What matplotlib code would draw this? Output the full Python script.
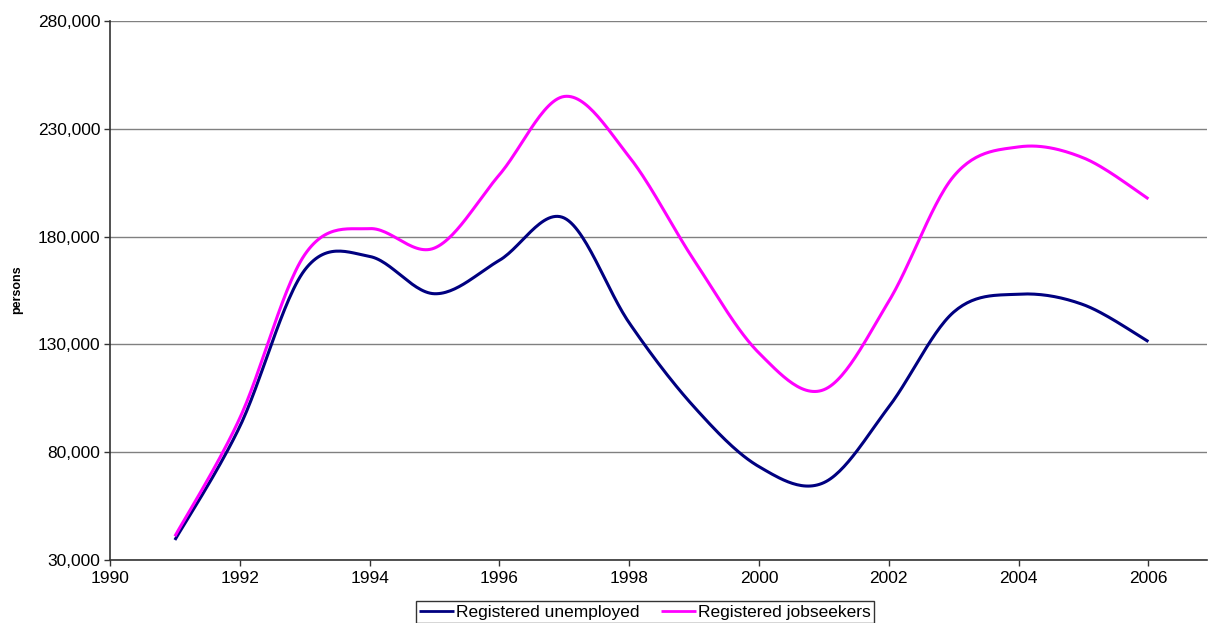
import numpy as np
import matplotlib
matplotlib.use("Agg")
import matplotlib.pyplot as plt
from matplotlib.ticker import FuncFormatter

years = [1991, 1992, 1993, 1994, 1995, 1996, 1997, 1998,
         1999, 2000, 2001, 2002, 2003, 2004, 2005, 2006]
unemployed = [39300, 91900, 164500, 170800, 153500, 169000, 188600, 140000,
              101000, 73300, 65900, 101000, 145000, 153300, 148400, 131300]
jobseekers = [41000, 95800, 171600, 183700, 174700, 208700, 245000, 217000,
              169000, 126000, 109000, 150000, 208000, 221600, 216500, 197500]

series_names = ["Registered unemployed", "Registered jobseekers"]
series_colors = ["#000080", "#FF00FF"]


def smooth(xs, ys, n=30):
    # excel style smoothed line: bezier segments, catmull-rom control points
    x = np.asarray(xs, float)
    y = np.asarray(ys, float)
    px = np.concatenate([[x[0]], x, [x[-1]]])
    py = np.concatenate([[y[0]], y, [y[-1]]])
    outx, outy = [], []
    t = np.linspace(0, 1, n)
    for i in range(len(x) - 1):
        p0 = np.array([px[i + 1], py[i + 1]])
        p3 = np.array([px[i + 2], py[i + 2]])
        c1 = p0 + (p3 - np.array([px[i], py[i]])) / 6
        c2 = p3 - (np.array([px[i + 3], py[i + 3]]) - p0) / 6
        b = ((1 - t) ** 3)[:, None] * p0 + (3 * (1 - t) ** 2 * t)[:, None] * c1 \
            + (3 * (1 - t) * t ** 2)[:, None] * c2 + (t ** 3)[:, None] * p3
        outx.extend(b[:, 0])
        outy.extend(b[:, 1])
    return outx, outy


plt.rcParams['font.family'] = ['Liberation Sans', 'DejaVu Sans']

fig = plt.figure(figsize=(12.08, 6.23), dpi=100)
ax = fig.add_axes([110 / 1208, 1 - 560 / 623, 1097 / 1208, 539 / 623])

for vals, name, col in zip([unemployed, jobseekers], series_names, series_colors):
    sx, sy = smooth(years, vals)
    ax.plot(sx, sy, color=col, lw=2.2, label=name, solid_capstyle='butt')

ax.set_xlim(1990, 1990 + 1097 / 64.9)
ax.set_ylim(30000, 280000)
ax.set_xticks(range(1990, 2007, 2))
ax.set_yticks(range(30000, 280001, 50000))
ax.yaxis.set_major_formatter(FuncFormatter(lambda v, p: f"{int(v):,}"))
ax.yaxis.grid(True, color='#808080', lw=1)
ax.set_axisbelow(True)
for s in ['top', 'right']:
    ax.spines[s].set_visible(False)
for s in ['left', 'bottom']:
    ax.spines[s].set_color('#333333')
    ax.spines[s].set_linewidth(1.2)
ax.tick_params(axis='both', direction='out', length=4, width=1, color='#333333',
               labelsize=12.5, pad=3)
ax.tick_params(axis='x', pad=4)

fig.text(17 / 1208, 1 - 290 / 623, "persons", rotation=90, fontsize=9,
         fontweight='bold', ha='center', va='center')

leg = fig.legend(loc='upper center', bbox_to_anchor=(645 / 1208, 1 - 601 / 623),
                 ncol=2, fontsize=12.5, frameon=True, fancybox=False,
                 handlelength=2.0, handletextpad=0.15, columnspacing=1.2,
                 borderpad=0.2, borderaxespad=0)
leg.get_frame().set_edgecolor('black')
leg.get_frame().set_linewidth(1)
for line in leg.get_lines():
    line.set_linewidth(2)

fig.savefig("out.png", dpi=100)
